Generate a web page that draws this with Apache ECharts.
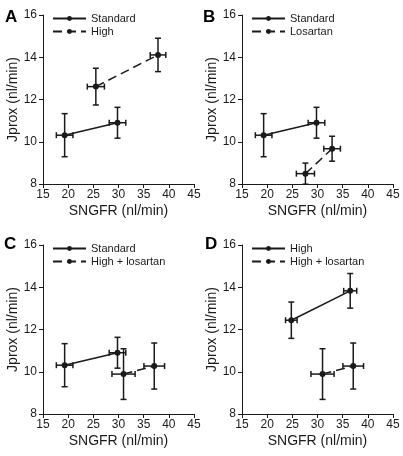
<!DOCTYPE html>
<html><head><meta charset="utf-8">
<script src="https://cdn.jsdelivr.net/npm/echarts@6/dist/echarts.min.js"></script>
<style>html,body{margin:0;padding:0;background:#fff}#c{width:403px;height:456px}</style>
</head><body><div id="c"></div>
<script>
// ---- data ----
const panelLetters = ['A', 'B', 'C', 'D'];
const xAxisTitle = 'SNGFR (nl/min)';
const yAxisTitle = 'Jprox (nl/min)';
const xMin = 15, xMax = 45, xStep = 5;
const yMin = 8, yMax = 16, yStep = 2;

// Standard diet
const stdX = [19.3, 29.8];
const stdY = [10.31, 10.9];
const stdXErr = [1.65, 1.65];
const stdYErr = [1.02, 0.73];
// High (panel A)
const highX = [25.5, 37.85];
const highY = [12.61, 14.11];
const highXErr = [1.7, 1.55];
const highYErr = [0.87, 0.79];
// Losartan (panel B)
const losX = [27.6, 32.9];
const losY = [8.49, 9.67];
const losXErr = [1.8, 1.65];
const losYErr = [0.5, 0.59];
// High + losartan (panels C, D)
const hlX = [31.0, 37.1];
const hlY = [9.89, 10.27];
const hlXErr = [2.3, 2.05];
const hlYErr = [1.2, 1.09];
// High (panel D)
const highDX = [24.8, 36.5];
const highDY = [12.44, 13.83];
const highDXErr = [1.15, 1.3];
const highDYErr = [0.86, 0.82];

const panelSeries = [
  [['Standard', stdX, stdY, stdXErr, stdYErr, 'solid'], ['High', highX, highY, highXErr, highYErr, 'dashed']],
  [['Standard', stdX, stdY, stdXErr, stdYErr, 'solid'], ['Losartan', losX, losY, losXErr, losYErr, 'dashed']],
  [['Standard', stdX, stdY, stdXErr, stdYErr, 'solid'], ['High + losartan', hlX, hlY, hlXErr, hlYErr, 'dashed']],
  [['High', highDX, highDY, highDXErr, highDYErr, 'solid'], ['High + losartan', hlX, hlY, hlXErr, hlYErr, 'dashed']]
];

// ---- layout ----
const grids = [
  {left: 43, top: 15, width: 151, height: 169},
  {left: 242, top: 15, width: 151, height: 169},
  {left: 43, top: 245, width: 151, height: 169},
  {left: 242, top: 245, width: 151, height: 169}
];
const letterPos = [[5, 9], [203, 9], [4, 236], [205, 236]];
const FONT = 'Liberation Sans, Arial, sans-serif';
const INK = '#1a1a1a';

const chart = echarts.init(document.getElementById('c'), null, {renderer: 'canvas'});

const xAxes = [], yAxes = [], series = [], legends = [], graphics = [];
grids.forEach((g, i) => {
  xAxes.push({
    gridIndex: i, type: 'value', min: xMin, max: xMax, interval: xStep,
    name: xAxisTitle, nameLocation: 'middle', nameGap: 20,
    nameTextStyle: {fontFamily: FONT, fontSize: 14, color: INK},
    axisLine: {lineStyle: {color: INK, width: 1}},
    axisTick: {show: true, inside: false, length: 4, lineStyle: {color: INK}},
    axisLabel: {fontFamily: FONT, fontSize: 12, color: INK, margin: 5},
    splitLine: {show: false}
  });
  yAxes.push({
    gridIndex: i, type: 'value', min: yMin, max: yMax, interval: yStep,
    name: yAxisTitle, nameLocation: 'middle', nameGap: 21,
    nameTextStyle: {fontFamily: FONT, fontSize: 14, color: INK},
    axisLine: {show: true, lineStyle: {color: INK, width: 1}},
    axisTick: {show: true, inside: false, length: 4, lineStyle: {color: INK}},
    axisLabel: {fontFamily: FONT, fontSize: 12, color: INK, margin: 6},
    splitLine: {show: false}
  });
  const names = [];
  panelSeries[i].forEach((s, k) => {
    const [label, xs, ys, xe, ye, style] = s;
    const sname = panelLetters[i] + ':' + label;
    names.push(sname);
    // error bars
    series.push({
      type: 'custom', xAxisIndex: i, yAxisIndex: i, z: 3,
      data: xs.map((x, j) => [x, ys[j], xe[j], ye[j]]),
      renderItem: function (params, api) {
        const x = api.value(0), y = api.value(1), dx = api.value(2), dy = api.value(3);
        const top = api.coord([x, y + dy]), bot = api.coord([x, y - dy]);
        const lft = api.coord([x - dx, y]), rgt = api.coord([x + dx, y]);
        const cap = 3;
        const st = {stroke: INK, lineWidth: 1.5};
        const line = (x1, y1, x2, y2) => ({type: 'line', shape: {x1, y1, x2, y2}, style: st});
        return {type: 'group', children: [
          line(top[0], top[1], bot[0], bot[1]),
          line(top[0] - cap, top[1], top[0] + cap, top[1]),
          line(bot[0] - cap, bot[1], bot[0] + cap, bot[1]),
          line(lft[0], lft[1], rgt[0], rgt[1]),
          line(lft[0], lft[1] - cap, lft[0], lft[1] + cap),
          line(rgt[0], rgt[1] - cap, rgt[0], rgt[1] + cap)
        ]};
      },
      silent: true
    });
    series.push({
      name: sname, type: 'line', xAxisIndex: i, yAxisIndex: i, z: 4,
      data: xs.map((x, j) => [x, ys[j]]),
      symbol: 'circle', symbolSize: 6,
      itemStyle: {color: INK},
      lineStyle: {color: INK, width: 1.5, type: style === 'dashed' ? [9, 5] : 'solid'},
      animation: false
    });
  });
  legends.push({
    data: names, orient: 'vertical',
    left: g.left + 9, top: g.top - 3, padding: 0,
    itemWidth: 33, itemHeight: 6, itemGap: 0,
    selectedMode: false,
    formatter: n => n.slice(n.indexOf(':') + 1),
    textStyle: {fontFamily: FONT, fontSize: 11, color: INK, lineHeight: 13}
  });
  graphics.push({
    type: 'text', left: letterPos[i][0], top: letterPos[i][1],
    style: {text: panelLetters[i], font: 'bold 17px ' + FONT, fill: '#000'}
  });
});

chart.setOption({
  animation: false,
  backgroundColor: '#fff',
  grid: grids,
  xAxis: xAxes,
  yAxis: yAxes,
  series: series,
  legend: legends,
  graphic: graphics
});
</script></body></html>
